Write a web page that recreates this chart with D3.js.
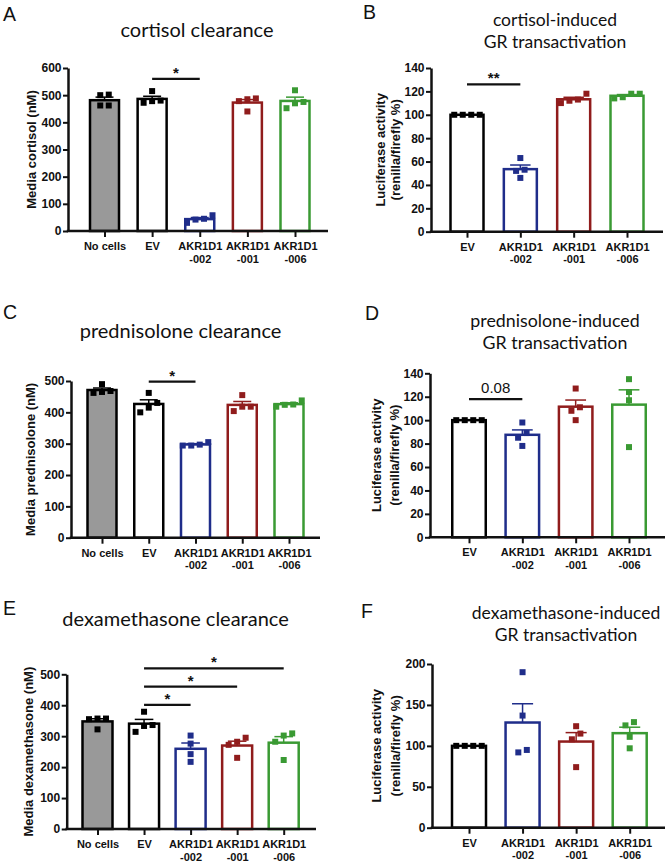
<!DOCTYPE html>
<html><head><meta charset="utf-8">
<script src="https://cdn.jsdelivr.net/npm/d3@7"></script>
<style>body{margin:0;background:#fff}svg{display:block}</style>
</head><body>
<svg id="c" width="667" height="861"></svg>
<script>
// ---------- DATA ----------
const clearanceGroups = ["No cells", "EV", "AKR1D1\n-002", "AKR1D1\n-001", "AKR1D1\n-006"];
const transactivationGroups = ["EV", "AKR1D1\n-002", "AKR1D1\n-001", "AKR1D1\n-006"];

// A: cortisol clearance (nM), 4 replicates each
const cortisolClearance = [[500, 502, 462, 462], [515, 472, 480, 478], [30, 45, 42, 58], [488, 440, 478, 485], [518, 452, 470, 475]];
const cortisolTicks = [0, 100, 200, 300, 400, 500, 600];
// B: cortisol-induced GR transactivation (%)
const cortisolGR = [[100, 100, 100, 100], [63, 53, 46, 52], [118, 110, 113, 112], [118, 114, 118, 115]];
const grTicks140 = [0, 20, 40, 60, 80, 100, 120, 140];
// C: prednisolone clearance (nM)
const prednisoloneClearance = [[490, 462, 468, 465], [462, 430, 415, 400], [305, 294, 297, 294], [455, 404, 418, 418], [438, 418, 425, 424]];
const clearanceTicks500 = [0, 100, 200, 300, 400, 500];
// D: prednisolone-induced GR transactivation (%)
const prednisoloneGR = [[100, 100, 100, 100], [98, 89, 85, 78], [127, 111, 108, 100], [135, 124, 117, 77]];
// E: dexamethasone clearance (nM)
const dexClearance = [[357, 355, 357, 322], [379, 336, 333, 314], [302, 276, 242, 217], [295, 282, 272, 230], [302, 309, 282, 223]];
// F: dexamethasone-induced GR transactivation (%)
const dexGR = [[100, 100, 100, 100], [190, 137, 92, 95], [124, 115, 108, 74], [125, 129, 111, 97]];
const grTicks200 = [0, 50, 100, 150, 200];

// significance annotations: [from group index, to group index, y value, label]
const sigA = [[1, 2, 560, "*"]];
const sigB = [[0, 1, 126, "**"]];
const sigC = [[1, 2, 498, "*"]];
const sigD = [[0, 1, 118, "0.08"]];
const sigE = [[1, 2, 401, "*"], [1, 3, 460, "*"], [1, 4, 519, "*"]];
const sigF = [];

// ---------- STYLE ----------
const BLUE = "#1f2d8a", RED = "#901c1c", GREEN = "#3a9a33";
const clearanceStroke = ["#000", "#000", BLUE, RED, GREEN];
const clearanceFill = ["#999999", "#fff", "#fff", "#fff", "#fff"];
const transStroke = ["#000", BLUE, RED, GREEN];
const transFill = ["#fff", "#fff", "#fff", "#fff"];

const panels = [
  {letter: "A", lx: 3, ly: 20.5, title: ["cortisol clearance"], tsize: 20, tx: 197, ty: [37.3],
   ylabel: ["Media cortisol (nM)"], ylx: [31],
   groups: clearanceGroups, data: cortisolClearance, ticks: cortisolTicks, stroke: clearanceStroke, fill: clearanceFill,
   x0: 68, x1: 328, yTop: 68, yZero: 231, c0: 104.5, c1: 295, barW: 29, sig: sigA},
  {letter: "B", lx: 363, ly: 19, title: ["cortisol-induced", "GR transactivation"], tsize: 17.5, tx: 555, ty: [26, 48.3],
   ylabel: ["Luciferase activity", "(renilla/firefly %)"], ylx: [380.5, 395],
   groups: transactivationGroups, data: cortisolGR, ticks: grTicks140, stroke: transStroke, fill: transFill,
   x0: 431, x1: 663, yTop: 68, yZero: 231.7, c0: 467, c1: 627, barW: 33, sig: sigB},
  {letter: "C", lx: 3, ly: 319.3, title: ["prednisolone clearance"], tsize: 20, tx: 180.5, ty: [338.3],
   ylabel: ["Media prednisolone (nM)"], ylx: [30],
   groups: clearanceGroups, data: prednisoloneClearance, ticks: clearanceTicks500, stroke: clearanceStroke, fill: clearanceFill,
   x0: 71, x1: 320, yTop: 381, yZero: 537.7, c0: 102, c1: 289, barW: 29, sig: sigC},
  {letter: "D", lx: 365, ly: 320, title: ["prednisolone-induced", "GR transactivation"], tsize: 17.8, tx: 555, ty: [326.7, 349],
   ylabel: ["Luciferase activity", "(renilla/firefly %)"], ylx: [376.5, 394.5],
   groups: transactivationGroups, data: prednisoloneGR, ticks: grTicks140, stroke: transStroke, fill: transFill,
   x0: 430, x1: 665, yTop: 373.3, yZero: 537.3, c0: 469, c1: 629, barW: 33.5, sig: sigD},
  {letter: "E", lx: 3, ly: 615, title: ["dexamethasone clearance"], tsize: 20, tx: 175.5, ty: [626],
   ylabel: ["Media dexamethasone (nM)"], ylx: [28],
   groups: clearanceGroups, data: dexClearance, ticks: clearanceTicks500, stroke: clearanceStroke, fill: clearanceFill,
   x0: 66.7, x1: 316, yTop: 674.3, yZero: 829, c0: 97.5, c1: 283.7, barW: 30, sig: sigE},
  {letter: "F", lx: 361, ly: 618.3, title: ["dexamethasone-induced", "GR transactivation"], tsize: 17.5, tx: 566, ty: [619, 641],
   ylabel: ["Luciferase activity", "(renilla/firefly %)"], ylx: [376.5, 395],
   groups: transactivationGroups, data: dexGR, ticks: grTicks200, stroke: transStroke, fill: transFill,
   x0: 432, x1: 665, yTop: 664, yZero: 827.7, c0: 469, c1: 629.7, barW: 34, sig: sigF}
];

const AX = "'Liberation Sans', Arial, sans-serif";
const TITLE = "Lato, 'Open Sans', sans-serif";
const PT = 6;        // point size
const DODGE = 8.5;   // horizontal dodge step for overlapping points

const svg = d3.select("#c");

panels.forEach(p => {
  const g = svg.append("g");
  const y = d3.scaleLinear().domain([0, d3.max(p.ticks)]).range([p.yZero, p.yTop]);
  const x = d3.scalePoint().domain(p.groups).range([p.c0, p.c1]);

  // panel letter
  g.append("text").attr("x", p.lx).attr("y", p.ly).text(p.letter)
    .attr("font-family", AX).attr("font-size", 19.5).attr("fill", "#111");

  // title
  p.title.forEach((t, i) => {
    g.append("text").attr("x", p.tx).attr("y", p.ty[i]).attr("text-anchor", "middle")
      .attr("font-family", TITLE).attr("font-size", p.tsize).attr("fill", "#111").text(t);
  });

  // y-axis label
  const yMid = (p.yTop + p.yZero) / 2;
  p.ylabel.forEach((t, i) => {
    g.append("text").attr("transform", `translate(${p.ylx[i]},${yMid}) rotate(-90)`)
      .attr("text-anchor", "middle").attr("dominant-baseline", "central")
      .attr("font-family", AX).attr("font-weight", "bold").attr("font-size", 13).attr("fill", "#111").text(t);
  });

  // bars
  const stats = p.data.map(v => ({mean: d3.mean(v), sem: d3.deviation(v) / Math.sqrt(v.length)}));
  g.selectAll("rect.bar").data(p.groups).join("rect").attr("class", "bar")
    .attr("x", d => x(d) - p.barW / 2).attr("width", p.barW)
    .attr("y", (d, i) => y(stats[i].mean)).attr("height", (d, i) => p.yZero - y(stats[i].mean))
    .attr("fill", (d, i) => p.fill[i]).attr("stroke", (d, i) => p.stroke[i]).attr("stroke-width", 2.5);

  // error bars (mean to mean + SEM)
  p.groups.forEach((gr, i) => {
    const s = stats[i];
    if (!(s.sem > 0.01)) return;
    const cx = x(gr), capW = p.barW * 0.62;
    g.append("line").attr("x1", cx).attr("x2", cx).attr("y1", y(s.mean)).attr("y2", y(s.mean + s.sem))
      .attr("stroke", p.stroke[i]).attr("stroke-width", 1.5);
    g.append("line").attr("x1", cx - capW / 2).attr("x2", cx + capW / 2)
      .attr("y1", y(s.mean + s.sem)).attr("y2", y(s.mean + s.sem))
      .attr("stroke", p.stroke[i]).attr("stroke-width", 1.5);
  });

  // points with simple dodge of overlapping markers
  const sym = d3.symbol().type(d3.symbolSquare).size(PT * PT);
  p.groups.forEach((gr, i) => {
    const vals = p.data[i].slice().sort((a, b) => a - b);
    const clusters = [];
    vals.forEach(v => {
      const last = clusters[clusters.length - 1];
      if (last && Math.abs(y(v) - y(last[last.length - 1])) < PT + 0.5) last.push(v);
      else clusters.push([v]);
    });
    clusters.forEach(cl => {
      cl.forEach((v, k) => {
        const dx = (k - (cl.length - 1) / 2) * DODGE;
        g.append("path").attr("d", sym)
          .attr("transform", `translate(${x(gr) + dx},${y(v)})`)
          .attr("fill", p.stroke[i]);
      });
    });
  });

  // y axis
  const ya = g.append("g").attr("transform", `translate(${p.x0},0)`)
    .call(d3.axisLeft(y).tickValues(p.ticks).tickSize(5).tickPadding(1.5).tickSizeOuter(0));
  ya.select(".domain").attr("stroke", "#111").attr("stroke-width", 2.5);
  ya.selectAll(".tick line").attr("stroke", "#111").attr("stroke-width", 2);
  ya.selectAll(".tick text").attr("font-family", AX).attr("font-weight", "bold")
    .attr("font-size", 12).attr("fill", "#111");

  // x axis
  const xa = g.append("g").attr("transform", `translate(0,${p.yZero})`)
    .call(d3.axisBottom(x).tickSize(6).tickPadding(2).tickSizeOuter(0));
  xa.select(".domain").remove();
  xa.append("line").attr("x1", p.x0 - 1.25).attr("x2", p.x1).attr("y1", 0).attr("y2", 0)
    .attr("stroke", "#111").attr("stroke-width", 2.5);
  xa.selectAll(".tick line").attr("stroke", "#111").attr("stroke-width", 2);
  xa.selectAll(".tick text").each(function(d) {
    const t = d3.select(this).text("").attr("font-family", AX).attr("font-weight", "bold")
      .attr("font-size", 11).attr("fill", "#111").attr("y", 19).attr("dy", 0);
    d.split("\n").forEach((line, k) => {
      t.append("tspan").attr("x", 0).attr("y", 19 + k * 12.5).text(line);
    });
  });

  // significance bars
  p.sig.forEach(([a, b, v, lab]) => {
    const xa1 = x(p.groups[a]), xb = x(p.groups[b]), yy = y(v);
    g.append("line").attr("x1", xa1).attr("x2", xb).attr("y1", yy).attr("y2", yy)
      .attr("stroke", "#111").attr("stroke-width", 2.2);
    const isStar = lab.indexOf("*") >= 0;
    g.append("text").attr("x", (xa1 + xb) / 2).attr("y", isStar ? yy - 1 : yy - 6.5)
      .attr("text-anchor", "middle").attr("font-family", AX)
      .attr("font-weight", isStar ? "bold" : "normal")
      .attr("font-size", 15).attr("fill", "#111").text(lab);
  });
});
</script>
</body></html>
